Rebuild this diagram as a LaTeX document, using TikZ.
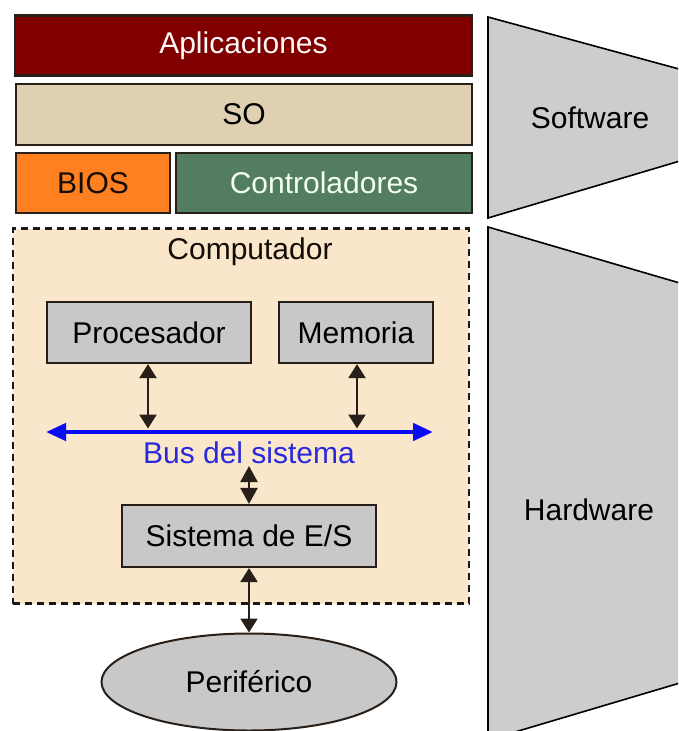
\documentclass[tikz,border=0pt]{standalone}
\usepackage{fontspec}
\setmainfont{Liberation Sans}
\usetikzlibrary{arrows.meta,shapes.geometric}

\definecolor{apcol}{RGB}{128,0,0}
\definecolor{socol}{RGB}{224,208,178}
\definecolor{bioscol}{RGB}{255,128,32}
\definecolor{ctrlcol}{RGB}{82,125,96}
\definecolor{compcol}{RGB}{250,230,202}
\definecolor{boxgray}{RGB}{200,200,200}
\definecolor{trapgray}{RGB}{205,205,205}
\definecolor{edgecol}{RGB}{40,32,24}
\definecolor{buscol}{RGB}{10,10,245}
\definecolor{bustext}{RGB}{40,40,220}

\tikzset{
  lbl/.style={font=\fontsize{30}{36}\selectfont},
  layer/.style={draw=edgecol, line width=2.2pt, lbl, inner sep=0pt},
  unit/.style={draw=edgecol, line width=2.2pt, fill=boxgray, lbl, inner sep=0pt},
  link/.style={draw=edgecol, line width=2.3pt,
    {Triangle[length=14pt,width=17pt]}-{Triangle[length=14pt,width=17pt]}},
  trap/.style={fill=trapgray, draw=black, line width=1.6pt},
}

\begin{document}
\begin{tikzpicture}[x=1pt,y=-1pt]
\useasboundingbox (0,0) rectangle (678,731);
\clip (0,0) rectangle (678,731);

% software layers
\node[layer, fill=apcol, text=white!90!pink, minimum width=457pt, minimum height=60pt]
  (apps) at (243.5,45.5) {Aplicaciones};
\node[layer, fill=socol, text=black, minimum width=456pt, minimum height=61pt]
  (so) at (244,114.5) {SO};
\node[layer, fill=bioscol, text=black!90!brown, minimum width=154pt, minimum height=60pt]
  (bios) at (93,183) {BIOS};
\node[layer, fill=ctrlcol, text=green!5!white, minimum width=296pt, minimum height=60pt]
  (ctrl) at (324,183) {Controladores};

% computer enclosure
\node[draw=black!90, dash pattern=on 7pt off 5pt, line width=2.4pt, fill=compcol,
  minimum width=456pt, minimum height=375pt, inner sep=0pt]
  (comp) at (241,416) {};
\node[lbl, text=black!90!brown] (complbl) at (250,252) {Computador};

% units inside the computer
\node[unit, minimum width=204pt, minimum height=61pt] (cpu) at (149,332.5) {Procesador};
\node[unit, minimum width=154pt, minimum height=61pt] (mem) at (356,332.5) {Memoria};
\node[unit, minimum width=254pt, minimum height=62pt] (io) at (249,536) {Sistema de E/S};

% system bus
\coordinate (busL) at (46,432);
\coordinate (busR) at (433,432);
\coordinate (busP) at (148,428.5);
\coordinate (busM) at (357,428.5);
\draw[buscol, line width=4.5pt, {Triangle[length=20pt,width=17pt]}-{Triangle[length=20pt,width=17pt]}]
  (busL) -- (busR);
\node[lbl, text=bustext] (buslbl) at (249,453) {Bus del sistema};

\draw[link] (cpu.south -| busP) -- (busP);
\draw[link] (mem.south -| busM) -- (busM);
\coordinate (busIo) at (249,466);
\draw[link, {Triangle[length=16pt,width=17pt]}-{Triangle[length=16pt,width=17pt]}]
  (busIo) -- (io.north);

% peripheral
\node[ellipse, draw=edgecol, line width=2pt, fill=boxgray, lbl,
  minimum width=295pt, minimum height=97pt, inner sep=0pt]
  (per) at (249,682) {Periférico};
\draw[link] (io.south) -- (per.north);

% software / hardware bands
\draw[trap] (690,72) -- (488,17) -- (488,218) -- (690,158);
\node[lbl] (sw) at (590,118) {Software};
\draw[trap] (690,286) -- (488,227) -- (488,740) -- (690,680);
\node[lbl] (hw) at (589,510) {Hardware};
\end{tikzpicture}
\end{document}
